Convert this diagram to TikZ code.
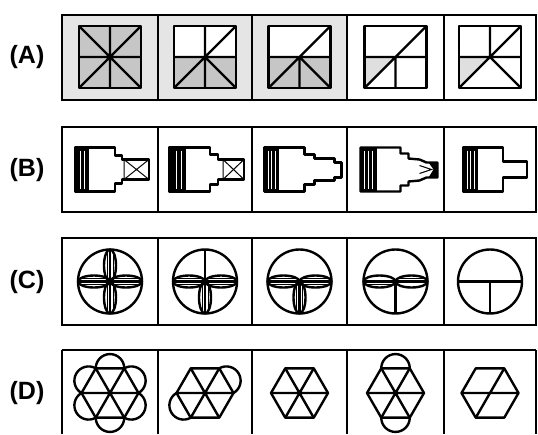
\documentclass[tikz,border=0pt]{standalone}
\usepackage{fontspec}
\setmainfont{Liberation Sans}
\begin{document}
\begin{tikzpicture}
	[x=1pt, y=-1pt, fig/.style={line width=2.4pt, line join=round},
	frame/.style={line width=2pt}, thin/.style={line width=1pt},
	shade/.style={gray!45}, lab/.style={font=\bfseries\fontsize{25}{25}\selectfont}]
	\useasboundingbox (0,0) rectangle (538,434);
	\node[lab] (la) at (27,57) {(A)};
	\node[lab] (lb) at (27,170) {(B)};
	\node[lab] (lc) at (27,282) {(C)};
	\node[lab] (ld) at (27,393) {(D)};
	\fill[gray!20] (62,15) rectangle (347,100);
	\draw[frame] (62,15) rectangle (536,100);
	\draw[frame] (62,127) rectangle (536,212);
	\draw[frame] (62,238) rectangle (536,325);
	\draw[frame] (62,350) -- (536,350);
	\foreach \x in {62,536} \draw[frame] (\x,350) -- (\x,434);
	\foreach \x in {158,252,347,444} {
		\draw[frame] (\x,15) -- (\x,100);
		\draw[frame] (\x,127) -- (\x,212);
		\draw[frame] (\x,238) -- (\x,325);
		\draw[frame] (\x,350) -- (\x,434);
	}
	\begin{scope}[shift={(110,57)}]
		\fill[shade] (-31,-31) rectangle (31,31);
		\draw[fig] (-31,-31) rectangle (31,31);
		\draw[fig] (-31,-31) -- (31,31) (31,-31) -- (-31,31) (0,-31) -- (0,31) (-31,0) -- (31,0);
	\end{scope}
	\begin{scope}[shift={(205,57)}]
		\fill[white] (-31,-31) rectangle (31,0);
		\fill[shade] (-31,0) rectangle (31,31);
		\draw[fig] (-31,-31) rectangle (31,31);
		\draw[fig] (0,-31) -- (0,31) (-31,0) -- (31,0) (-31,31) -- (31,-31) (0,0) -- (31,31);
	\end{scope}
	\begin{scope}[shift={(299.5,57)}]
		\fill[white] (-31,-31) rectangle (31,0);
		\fill[shade] (-31,0) rectangle (31,31);
		\draw[fig] (-31,-31) rectangle (31,31);
		\draw[fig] (-31,0) -- (31,0) (-31,31) -- (31,-31) (0,0) -- (0,31) (0,0) -- (31,31);
	\end{scope}
	\begin{scope}[shift={(395.5,57)}]
		\fill[gray!25] (-31,0) -- (0,0) -- (-31,31) -- cycle;
		\draw[fig] (-31,-31) rectangle (31,31);
		\draw[fig] (-31,0) -- (31,0) (-31,31) -- (31,-31) (0,0) -- (0,31);
	\end{scope}
	\begin{scope}[shift={(490,57)}]
		\fill[gray!25] (-31,0) -- (0,0) -- (-31,31) -- cycle;
		\draw[fig] (-31,-31) rectangle (31,31);
		\draw[fig] (0,-31) -- (0,0) (-31,0) -- (31,0) (-31,31) -- (31,-31) (0,0) -- (31,31);
	\end{scope}
	\begin{scope}[shift={(110,169.5)}]
		\draw[fig] (-35,-22) -- (5,-22) -- (5,-14) -- (12,-14) -- (12,-10) -- (39,-10) -- (39,10) -- (12,10) -- (12,14) -- (5,14) -- (5,22) -- (-35,22) -- cycle;
		\fill (-35,-22) rectangle (-21,22);
		\draw[white, line width=0.6pt] (-30,-19) -- (-30,19) (-26,-19) -- (-26,19);
		\draw[thin] (14,-10) -- (14,10) (14,-10) -- (39,10) (14,10) -- (39,-10) (14,-10) -- (39,-10);
	\end{scope}
	\begin{scope}[shift={(205,169.5)}]
		\draw[fig] (-36,-22) -- (5,-22) -- (5,-15) -- (13,-15) -- (13,-10) -- (39,-10) -- (39,10) -- (13,10) -- (13,15) -- (5,15) -- (5,22) -- (-36,22) -- cycle;
		\fill (-36,-22) rectangle (-19,22);
		\draw[white, line width=0.7pt] (-29,-19) -- (-29,19) (-24,-19) -- (-24,19);
		\draw[thin] (18,-10) -- (18,10) (18,-10) -- (39,10) (18,10) -- (39,-10);
	\end{scope}
	\begin{scope}[shift={(299.5,169.5)}]
		\draw[fig] (-35,-22) -- (5,-22) -- (5,-15) -- (15,-15) -- (15,-11) -- (35,-11) -- (35,-7) -- (42,-7) -- (42,8) -- (35,8) -- (35,11) -- (15,11) -- (15,15) -- (5,15) -- (5,22) -- (-35,22) -- cycle;
		\fill (-35,-22) rectangle (-21,22);
		\draw[white, line width=0.6pt] (-31,-19) -- (-31,19) (-28,-19) -- (-28,19) (-24,-19) -- (-24,19);
	\end{scope}
	\begin{scope}[shift={(395.5,169.5)}]
		\draw[fig] (-35,-22) -- (5,-22) -- (5,-16) -- (13,-16) -- (13,-11) -- (24,-10) -- (31,-7) -- (42,-7) -- (42,8) -- (31,8) -- (24,11) -- (13,12) -- (13,16) -- (5,16) -- (5,22) -- (-35,22) -- cycle;
		\fill (-35,-22) rectangle (-19,22);
		\draw[white, line width=0.6pt] (-31,-19) -- (-31,19) (-27,-19) -- (-27,19) (-23,-19) -- (-23,19);
		\fill (33,-7) -- (42,-7) -- (42,8) -- (33,8) -- (38,0) -- cycle;
		\draw[thin] (24,-4) -- (36,0) -- (24,4);
	\end{scope}
	\begin{scope}[shift={(490,169.5)}]
		\draw[fig] (-27,-22) -- (13,-22) -- (13,-8) -- (37,-8) -- (37,8) -- (13,8) -- (13,22) -- (-27,22) -- cycle;
		\fill (-27,-22) rectangle (-12,22);
		\draw[white, line width=0.6pt] (-23,-19) -- (-23,19) (-20,-19) -- (-20,19) (-16,-19) -- (-16,19);
	\end{scope}
	\begin{scope}[shift={(110,281.5)}]
		\draw[fig] (0,0) circle (32);
		\draw[fig] (-32,0) -- (32,0) (0,-32) -- (0,32);
		\foreach \a in {0,90,180,270} {
			\draw[fig, rotate=\a] (16,0) ellipse (16 and 6);
			\draw[thin, rotate=\a] (2,-3) -- (30,-3) (2,3) -- (30,3);
		}
	\end{scope}
	\begin{scope}[shift={(205,281.5)}]
		\draw[fig] (0,0) circle (32);
		\draw[fig] (-32,0) -- (32,0) (0,-32) -- (0,32);
		\foreach \a in {0,180,270} {
			\draw[fig, rotate=\a] (16,0) ellipse (16 and 6);
			\draw[thin, rotate=\a] (2,-3) -- (30,-3) (2,3) -- (30,3);
		}
	\end{scope}
	\begin{scope}[shift={(299.5,281.5)}]
		\draw[fig] (0,0) circle (32);
		\draw[fig] (-32,0) -- (32,0) (0,0) -- (0,32);
		\foreach \a in {0,180,270} {
			\draw[fig, rotate=\a] (16,0) ellipse (16 and 6);
			\draw[thin, rotate=\a] (2,-3) -- (30,-3) (2,3) -- (30,3);
		}
	\end{scope}
	\begin{scope}[shift={(395.5,281.5)}]
		\draw[fig] (0,0) circle (32);
		\draw[fig] (-32,0) -- (32,0) (0,0) -- (0,32);
		\foreach \a in {0,180} {
			\draw[fig, rotate=\a] (16,0) ellipse (16 and 6);
			\draw[thin, rotate=\a] (2,-3) -- (30,-3);
		}
	\end{scope}
	\begin{scope}[shift={(490,281.5)}]
		\draw[fig] (0,0) circle (32);
		\draw[fig] (-32,0) -- (32,0) (0,0) -- (0,32);
	\end{scope}
	\begin{scope}[shift={(110,393)}]
		\draw[fig] (0:28.5) -- (60:28.5) -- (120:28.5) -- (180:28.5) -- (240:28.5) -- (300:28.5) -- cycle;
		\draw[fig] (0:28.5) -- (180:28.5) (60:28.5) -- (240:28.5) (120:28.5) -- (300:28.5);
		\foreach \a in {0,60,...,300}
			\draw[fig] (\a:28.5) arc[start angle=\a-60, end angle=\a+120, radius=14.25];
	\end{scope}
	\begin{scope}[shift={(205,393)}]
		\draw[fig] (0:28.5) -- (60:28.5) -- (120:28.5) -- (180:28.5) -- (240:28.5) -- (300:28.5) -- cycle;
		\draw[fig] (0:28.5) -- (180:28.5) (60:28.5) -- (240:28.5) (120:28.5) -- (300:28.5);
		\foreach \a in {120,300}
			\draw[fig] (\a:28.5) arc[start angle=\a-60, end angle=\a+120, radius=14.25];
	\end{scope}
	\begin{scope}[shift={(299.5,393)}]
		\draw[fig] (0:28.5) -- (60:28.5) -- (120:28.5) -- (180:28.5) -- (240:28.5) -- (300:28.5) -- cycle;
		\draw[fig] (0:28.5) -- (180:28.5) (60:28.5) -- (240:28.5) (120:28.5) -- (300:28.5);
	\end{scope}
	\begin{scope}[shift={(395.5,393)}]
		\draw[fig] (0:28.5) -- (60:28.5) -- (120:28.5) -- (180:28.5) -- (240:28.5) -- (300:28.5) -- cycle;
		\draw[fig] (0:28.5) -- (180:28.5) (60:28.5) -- (240:28.5) (120:28.5) -- (300:28.5);
		\foreach \a in {60,240}
			\draw[fig] (\a:28.5) arc[start angle=\a-60, end angle=\a+120, radius=14.25];
	\end{scope}
	\begin{scope}[shift={(490,393)}]
		\draw[fig] (0:28.5) -- (60:28.5) -- (120:28.5) -- (180:28.5) -- (240:28.5) -- (300:28.5) -- cycle;
		\draw[fig] (0:28.5) -- (180:28.5) (300:28.5) -- (120:28.5);
	\end{scope}
\end{tikzpicture}
\end{document}
